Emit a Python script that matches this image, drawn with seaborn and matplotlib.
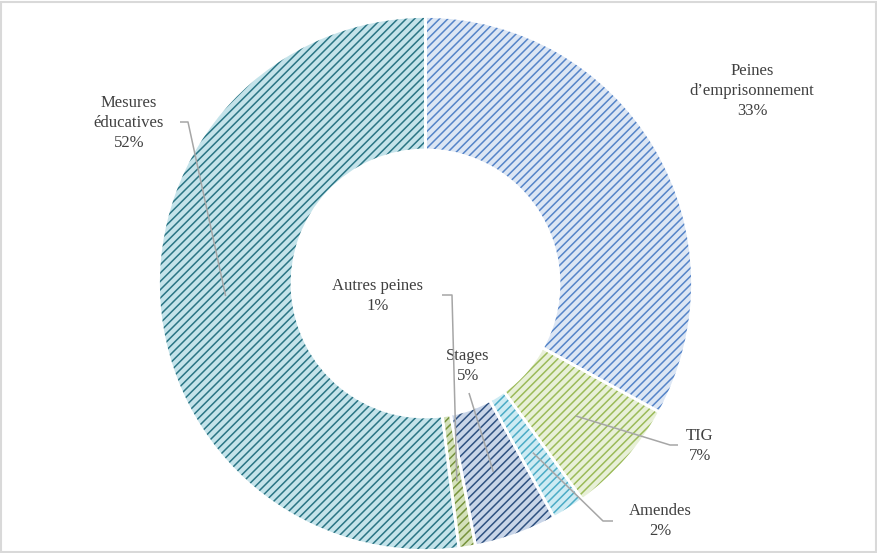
import numpy as np
import matplotlib
matplotlib.use("Agg")
import matplotlib.pyplot as plt
import seaborn as sns
from matplotlib.patches import Rectangle

categories = ["Peines\nd’emprisonnement", "TIG", "Amendes", "Stages", "Autres peines", "Mesures\néducatives"]
values = [33, 7, 2, 5, 1, 52]
pct_labels = ["33%", "7%", "2%", "5%", "1%", "52%"]
face_colors = ["#dce6f4", "#e8f0d8", "#cdebf3", "#c9d5e8", "#d4e1bb", "#c4e3ea"]
hatch_colors = ["#5584c8", "#9bbb59", "#4bacc6", "#2f5181", "#77933c", "#2a7584"]

# label positions (pixels) and leader line start/elbow (pixels)
label_px = [(752, 91), (700, 446), (660, 521), (468, 366), (378, 296), (129, 123)]
leader_px = [None, [(678, 445), (670, 445)], [(613, 521), (603, 521)], [(469, 393)],
             [(442, 295), (452, 295)], [(180, 122), (188, 122)]]

sns.set_theme(style="white")
plt.rcParams["font.family"] = ["Liberation Serif", "DejaVu Serif"]
plt.rcParams["hatch.linewidth"] = 1.1

W, H = 878, 553
fig = plt.figure(figsize=(W / 100, H / 100), dpi=100)
fig.patch.set_facecolor("white")
ax = fig.add_axes([0, 0, 1, 1])
cx, cy, R = 425.5, 283.5, 267.0


def px(x, y):
    return ((x - cx) / R, (cy - y) / R)


wedges, _ = ax.pie(values, startangle=90, counterclock=False, radius=1,
                   colors=face_colors, wedgeprops=dict(width=0.5, linewidth=0))
for w, hc in zip(wedges, hatch_colors):
    w.set_hatch("////")
    w.set_edgecolor(hc)
    w.set_linewidth(0)

ax.pie(values, startangle=90, counterclock=False, radius=1,
       colors=["none"] * len(values),
       wedgeprops=dict(width=0.5, linewidth=2.0, edgecolor="white"))

ax.set_xlim(-cx / R, (W - cx) / R)
ax.set_ylim(-(H - cy) / R, cy / R)
ax.axis("off")

for i, (cat, pct) in enumerate(zip(categories, pct_labels)):
    lx, ly = px(*label_px[i])
    ax.text(lx, ly, f"{cat}\n{pct}", ha="center", va="center", fontsize=12,
            color="#404040", linespacing=1.32)
    if leader_px[i] is not None:
        w = wedges[i]
        mid = np.deg2rad((w.theta1 + w.theta2) / 2)
        ax_, ay_ = 0.75 * np.cos(mid), 0.75 * np.sin(mid)
        pts = [px(*p) for p in leader_px[i]] + [(ax_, ay_)]
        xs, ys = zip(*pts)
        ax.plot(xs, ys, color="#a6a6a6", lw=1.1, solid_capstyle="butt", zorder=5)

fig.patches.append(Rectangle((1 / W, 1 / H), 1 - 3 / W, 1 - 3 / H, transform=fig.transFigure,
                             fill=False, edgecolor="#d9d9d9", linewidth=1.5))

fig.savefig("out.png", dpi=100)
